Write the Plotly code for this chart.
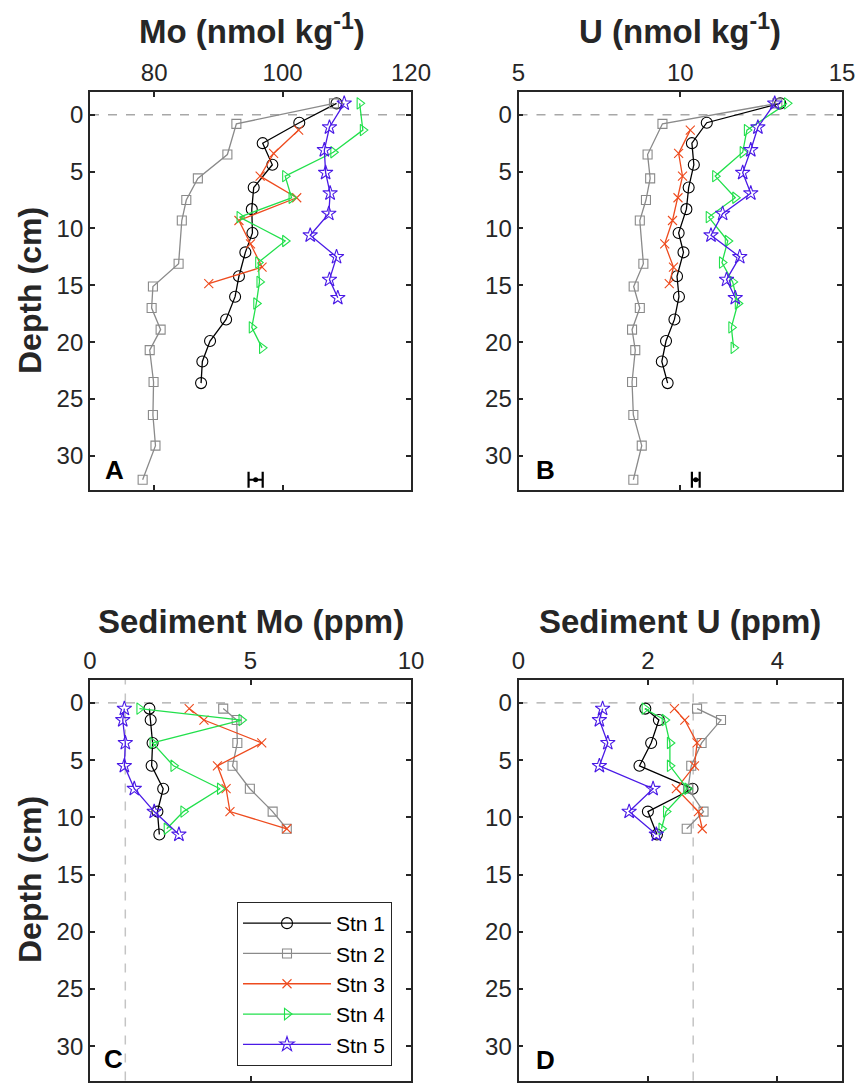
import plotly.graph_objects as go

# ---------------- data ----------------
stations = ["Stn 1", "Stn 2", "Stn 3", "Stn 4", "Stn 5"]

# Pore-water depths (cm)
pw_depth_stn1 = [-1, 0.7, 2.5, 4.4, 6.4, 8.3, 10.4, 12.1, 14.2, 16.0, 18.0, 19.9, 21.7, 23.6]
pw_depth_stn2 = [-1, 0.8, 3.5, 5.6, 7.5, 9.3, 13.1, 15.1, 17.0, 18.9, 20.7, 23.5, 26.4, 29.1, 32.1]
pw_depth_stn3 = [1.35, 3.4, 5.4, 7.3, 9.3, 11.35, 13.4, 14.85]
pw_depth_stn4 = [-1, 1.35, 3.3, 5.4, 7.3, 9.0, 11.1, 13.0, 14.7, 16.6, 18.7, 20.5]
pw_depth_stn5 = [-1, 1.1, 3.1, 5.1, 6.9, 8.7, 10.6, 12.5, 14.5, 16.1]

# Dissolved Mo (nmol/kg)
mo_stn1 = [108.4, 102.6, 96.9, 98.4, 95.5, 95.2, 95.3, 94.2, 93.2, 92.6, 91.2, 88.7, 87.5, 87.3]
mo_stn2 = [108.0, 92.8, 91.4, 86.8, 85.0, 84.3, 83.8, 79.8, 79.6, 81.0, 79.3, 79.9, 79.8, 80.2, 78.2]
mo_stn3 = [102.5, 98.6, 96.5, 102.2, 93.2, 95.0, 96.8, 88.5]
mo_stn4 = [112.0, 112.5, 107.9, 100.4, 101.4, 93.3, 100.4, 96.2, 96.4, 95.9, 95.2, 96.8]
mo_stn5 = [109.6, 107.3, 106.5, 106.7, 107.4, 107.2, 104.3, 108.4, 107.3, 108.6]

# Dissolved U (nmol/kg)
u_stn1 = [13.09, 10.82, 10.36, 10.42, 10.26, 10.19, 9.95, 10.10, 9.90, 9.96, 9.82, 9.56, 9.43, 9.61]
u_stn2 = [13.0, 9.45, 8.99, 9.07, 8.94, 8.75, 8.86, 8.56, 8.75, 8.51, 8.61, 8.51, 8.55, 8.81, 8.55]
u_stn3 = [10.31, 9.95, 10.07, 9.93, 9.76, 9.52, 9.79, 9.66]
u_stn4 = [13.30, 12.06, 11.93, 11.08, 11.70, 10.88, 11.47, 11.29, 11.62, 11.78, 11.58, 11.65]
u_stn5 = [12.92, 12.40, 12.18, 11.93, 12.18, 11.31, 10.95, 11.84, 11.43, 11.70]

# Analytical uncertainty bars
err_mo_value, err_mo_sd, err_mo_depth = 95.8, 1.1, 32.1
err_u_value, err_u_sd, err_u_depth = 10.48, 0.12, 32.1

# Sediment depths (cm)
sed_depth_a = [0.5, 1.5, 3.5, 5.5, 7.5, 9.5, 11.5]
sed_depth_b = [0.5, 1.5, 3.5, 5.5, 7.5, 9.5, 11.0]

# Sediment Mo (ppm)
smo_stn1 = [1.85, 1.89, 1.95, 1.92, 2.28, 2.10, 2.16]
smo_stn2 = [4.15, 4.57, 4.59, 4.44, 4.98, 5.69, 6.13]
smo_stn3 = [3.09, 3.55, 5.35, 3.97, 4.24, 4.36, 6.13]
smo_stn4 = [1.54, 4.72, 1.95, 2.60, 4.05, 2.91, 2.39]
smo_stn5 = [1.07, 1.02, 1.10, 1.07, 1.38, 2.00, 2.77]

# Sediment U (ppm)
su_stn1 = [1.96, 2.17, 2.05, 1.87, 2.69, 2.00, 2.14]
su_stn2 = [2.76, 3.13, 2.83, 2.67, 2.62, 2.86, 2.60]
su_stn3 = [2.41, 2.57, 2.76, 2.72, 2.44, 2.78, 2.84]
su_stn4 = [1.95, 2.26, 2.34, 2.34, 2.61, 2.28, 2.21]
su_stn5 = [1.30, 1.25, 1.38, 1.25, 2.08, 1.71, 2.13]

crustal_mo = 1.1
crustal_u = 2.7

# ---------------- styles ----------------
colors = ["#000000", "#8a8a8a", "#ee4b1e", "#22e04c", "#4a1ae6"]
symbols = ["circle-open", "square-open", "x-thin-open", "triangle-right-open", "star-open"]
msizes = [11, 9, 9, 10, 11]

W, H = 862, 1083
def px_x(p):
    return p / W
def px_y(p):
    return (H - p) / H

FONT = "Liberation Sans, Arial, Helvetica, sans-serif"
AX = "#262626"

fig = go.Figure()

def add_station(xvals, yvals, i, xa, ya, showlegend=False):
    fig.add_trace(go.Scatter(
        x=xvals, y=yvals, mode="lines+markers", name=stations[i],
        xaxis=xa, yaxis=ya, showlegend=showlegend,
        line=dict(color=colors[i], width=1.3),
        marker=dict(symbol=symbols[i], size=msizes[i], color=colors[i],
                    line=dict(color=colors[i], width=1.1)),
    ))

pw_depths = [pw_depth_stn1, pw_depth_stn2, pw_depth_stn3, pw_depth_stn4, pw_depth_stn5]
mo_all = [mo_stn1, mo_stn2, mo_stn3, mo_stn4, mo_stn5]
u_all = [u_stn1, u_stn2, u_stn3, u_stn4, u_stn5]
sed_depths = [sed_depth_a, sed_depth_b, sed_depth_b, sed_depth_b, sed_depth_a]
smo_all = [smo_stn1, smo_stn2, smo_stn3, smo_stn4, smo_stn5]
su_all = [su_stn1, su_stn2, su_stn3, su_stn4, su_stn5]

for i in range(5):
    add_station(mo_all[i], pw_depths[i], i, "x", "y")
    add_station(u_all[i], pw_depths[i], i, "x2", "y2")
    add_station(smo_all[i], sed_depths[i], i, "x3", "y3", showlegend=True)
    add_station(su_all[i], sed_depths[i], i, "x4", "y4")

# error bars
for xa, ya, v, sd, d in [("x", "y", err_mo_value, err_mo_sd, err_mo_depth),
                         ("x2", "y2", err_u_value, err_u_sd, err_u_depth)]:
    fig.add_trace(go.Scatter(
        x=[v], y=[d], mode="markers", xaxis=xa, yaxis=ya, showlegend=False,
        marker=dict(color="black", size=5),
        error_x=dict(type="constant", value=sd, color="black", thickness=2.2, width=8),
    ))

# ---------------- axes ----------------
xdomA = [px_x(90), px_x(411)]
xdomB = [px_x(518.5), px_x(842)]
ydomTop = [px_y(490), px_y(92)]
ydomBot = [px_y(1080.5), px_y(680)]

def xaxis_cfg(dom, rng, tv, anchor):
    return dict(domain=dom, range=rng, tickvals=tv, side="top", anchor=anchor,
                automargin=False,
                showline=True, linecolor=AX, linewidth=1.8, mirror="ticks",
                ticks="inside", ticklen=5, tickwidth=1.5, tickcolor=AX,
                showgrid=False, zeroline=False,
                tickfont=dict(family=FONT, size=24, color=AX))

def yaxis_cfg(dom, anchor):
    return dict(domain=dom, range=[33, -2], tickvals=[0, 5, 10, 15, 20, 25, 30],
                anchor=anchor, automargin=False,
                showline=True, linecolor=AX, linewidth=1.8,
                mirror="ticks", ticks="inside", ticklen=5, tickwidth=1.5,
                tickcolor=AX, showgrid=False, zeroline=False,
                tickfont=dict(family=FONT, size=24, color=AX))

fig.update_layout(
    xaxis=xaxis_cfg(xdomA, [70, 120], [80, 100, 120], "y"),
    yaxis=yaxis_cfg(ydomTop, "x"),
    xaxis2=xaxis_cfg(xdomB, [5, 15], [5, 10, 15], "y2"),
    yaxis2=yaxis_cfg(ydomTop, "x2"),
    xaxis3=xaxis_cfg(xdomA, [0, 10], [0, 5, 10], "y3"),
    yaxis3=yaxis_cfg(ydomBot, "x3"),
    xaxis4=xaxis_cfg(xdomB, [0, 5], [0, 2, 4], "y4"),
    yaxis4=yaxis_cfg(ydomBot, "x4"),
)

# ---------------- reference lines ----------------
shapes = []
for xa, ya in [("x", "y"), ("x2", "y2"), ("x3", "y3"), ("x4", "y4")]:
    shapes.append(dict(type="line", xref=xa + " domain", yref=ya, x0=0, x1=1, y0=0, y1=0,
                       line=dict(color="#a8a8a8", width=1.3, dash="dash"), layer="below"))
shapes.append(dict(type="line", xref="x3", yref="y3 domain", x0=crustal_mo, x1=crustal_mo, y0=0, y1=1,
                   line=dict(color="#c4c4c4", width=1.5, dash="dash"), layer="below"))
shapes.append(dict(type="line", xref="x4", yref="y4 domain", x0=crustal_u, x1=crustal_u, y0=0, y1=1,
                   line=dict(color="#c4c4c4", width=1.5, dash="dash"), layer="below"))
fig.update_layout(shapes=shapes)

# ---------------- annotations ----------------
ann = []
def title(text, xc, yc):
    ann.append(dict(text=text, x=px_x(xc), y=px_y(yc), xref="paper", yref="paper",
                    xanchor="center", yanchor="middle", showarrow=False,
                    font=dict(family=FONT, size=33, color=AX)))

title("<b>Mo (nmol kg<sup>-1</sup>)</b>", 252, 29)
title("<b>U (nmol kg<sup>-1</sup>)</b>", 680, 29)
title("<b>Sediment Mo (ppm)</b>", 251, 621)
title("<b>Sediment U (ppm)</b>", 680, 621)

for yc in [291, 880]:
    ann.append(dict(text="<b>Depth (cm)</b>", x=px_x(30), y=px_y(yc), xref="paper", yref="paper",
                    xanchor="center", yanchor="middle", showarrow=False, textangle=-90,
                    font=dict(family=FONT, size=32, color=AX)))

for lab, xc, yc in [("A", 114, 470), ("B", 545, 470), ("C", 113, 1059), ("D", 545, 1060)]:
    ann.append(dict(text="<b>" + lab + "</b>", x=px_x(xc), y=px_y(yc), xref="paper", yref="paper",
                    xanchor="center", yanchor="middle", showarrow=False,
                    font=dict(family=FONT, size=26, color="#000000")))

fig.update_layout(annotations=ann)

fig.update_layout(
    width=W, height=H,
    margin=dict(l=0, r=0, t=0, b=0, autoexpand=False),
    paper_bgcolor="white", plot_bgcolor="white",
    font=dict(family=FONT, color=AX),
    legend=dict(x=px_x(237), y=px_y(902), xanchor="left", yanchor="top",
                bgcolor="white", bordercolor="#262626", borderwidth=1,
                font=dict(family=FONT, size=21, color="#000000"),
                itemwidth=88, tracegroupgap=0),
)

fig.write_html("out.html",
               config={"displayModeBar": False},
               post_script="document.body.style.margin='0px';document.body.style.padding='0px';")
